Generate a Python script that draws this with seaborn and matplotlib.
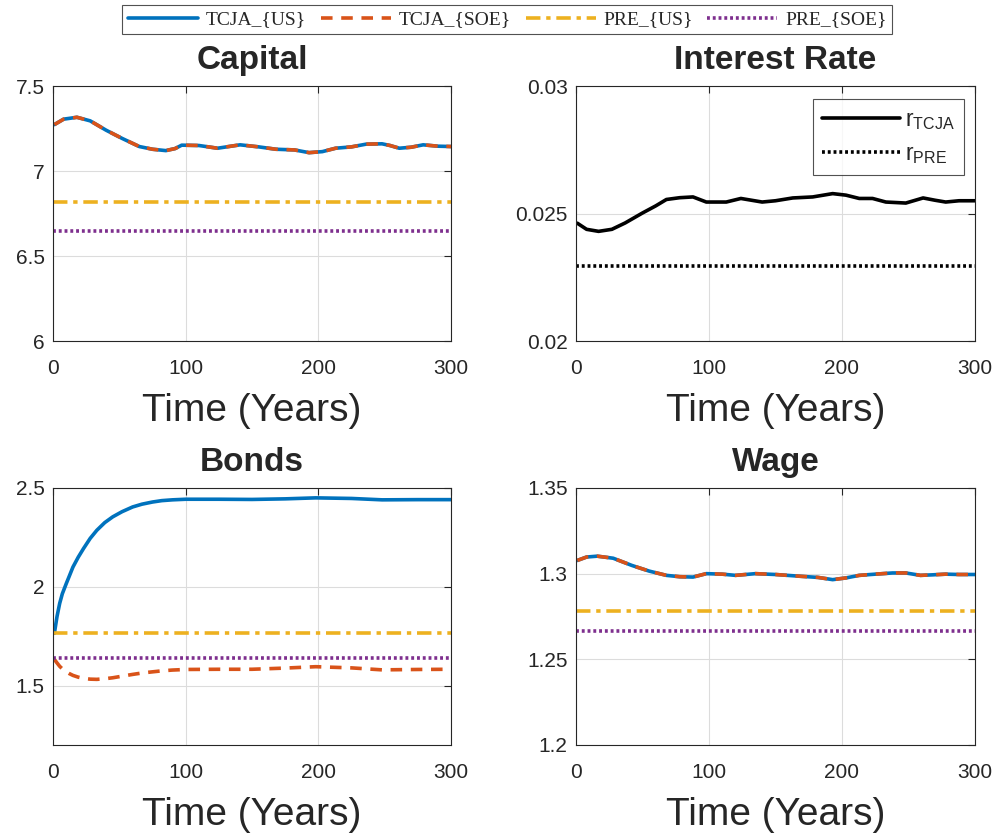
import matplotlib
matplotlib.use("Agg")
import matplotlib.pyplot as plt
import seaborn as sns
import pandas as pd

# time grid points
cap_t = [1, 8, 18, 28, 40, 52, 65, 75, 85, 92, 97, 110, 124, 141, 155, 168, 182, 193, 203, 213, 225, 236, 248, 254, 261, 270, 279, 290, 300]
cap_tcja = [7.273, 7.305, 7.316, 7.295, 7.240, 7.192, 7.144, 7.128, 7.120, 7.132, 7.152, 7.150, 7.134, 7.154, 7.142, 7.128, 7.124, 7.108, 7.114, 7.134, 7.142, 7.158, 7.160, 7.150, 7.134, 7.140, 7.154, 7.146, 7.144]
cap_pre_us = 6.818
cap_pre_soe = 6.646

r_t = [1, 8, 17, 27, 37, 50, 60, 68, 78, 88, 98, 113, 124, 140, 150, 163, 178, 193, 203, 213, 223, 233, 248, 261, 270, 278, 288, 300]
r_tcja = [0.02462, 0.02438, 0.02430, 0.02438, 0.02463, 0.02502, 0.02530, 0.02555, 0.02562, 0.02565, 0.02545, 0.02545, 0.02559, 0.02545, 0.02550, 0.02561, 0.02565, 0.02578, 0.02572, 0.02559, 0.02559, 0.02545, 0.02541, 0.02561, 0.02552, 0.02545, 0.02550, 0.02550]
r_pre = 0.02293

bond_t = [1, 3, 5, 7, 10, 12, 15, 19, 23, 28, 33, 39, 45, 52, 60, 67, 75, 82, 90, 100, 125, 150, 175, 198, 225, 248, 275, 300]
bond_us = [1.765, 1.850, 1.916, 1.965, 2.017, 2.050, 2.100, 2.150, 2.194, 2.245, 2.286, 2.325, 2.354, 2.380, 2.404, 2.418, 2.429, 2.436, 2.440, 2.443, 2.443, 2.442, 2.445, 2.450, 2.447, 2.440, 2.441, 2.441]
bond_soe = [1.633, 1.615, 1.598, 1.585, 1.570, 1.562, 1.552, 1.543, 1.537, 1.533, 1.532, 1.535, 1.540, 1.548, 1.557, 1.564, 1.570, 1.575, 1.579, 1.582, 1.583, 1.583, 1.589, 1.596, 1.590, 1.580, 1.582, 1.583]
bond_pre_us = 1.765
bond_pre_soe = 1.638

wage_t = [1, 8, 16, 28, 42, 55, 68, 78, 88, 98, 110, 120, 135, 150, 168, 182, 193, 203, 213, 225, 238, 248, 259, 268, 278, 288, 300]
wage_tcja = [1.3077, 1.3097, 1.3102, 1.3090, 1.3048, 1.3015, 1.2990, 1.2982, 1.2980, 1.3000, 1.2997, 1.2990, 1.3000, 1.2995, 1.2985, 1.2978, 1.2965, 1.2975, 1.2990, 1.2997, 1.3004, 1.3004, 1.2990, 1.2993, 1.2997, 1.2995, 1.2995]
wage_pre_us = 1.2781
wage_pre_soe = 1.2666

sns.set_theme(style="white")
plt.rcParams["font.family"] = ["Liberation Sans", "DejaVu Sans"]

c_us = "#0072BD"
c_soe = "#D95319"
c_pre_us = "#EDB120"
c_pre_soe = "#7E2F8E"
lw = 2.6

fig = plt.figure(figsize=(9.97, 8.35), dpi=100)
pos = {
    "cap": [0.0532, 0.5916, 0.3992, 0.3054],
    "r": [0.5777, 0.5916, 0.4002, 0.3054],
    "bond": [0.0532, 0.1078, 0.3992, 0.3078],
    "wage": [0.5777, 0.1078, 0.4002, 0.3078],
}
axs = {k: fig.add_axes(v) for k, v in pos.items()}


def style(ax, title, ylim, yticks, ylabels):
    ax.set_xlim(0, 300)
    ax.set_ylim(*ylim)
    ax.set_xticks([0, 100, 200, 300])
    ax.set_yticks(yticks)
    ax.set_yticklabels(ylabels)
    ax.grid(True, color="#dcdcdc", linewidth=0.8)
    ax.tick_params(direction="in", top=True, right=True, length=5, width=0.8,
                   labelsize=15, colors="#262626")
    ax.tick_params(axis="x", pad=13)
    ax.tick_params(axis="y", pad=6)
    for s in ax.spines.values():
        s.set_color("#262626")
        s.set_linewidth(0.8)
    ax.set_title(title, fontsize=24, fontweight="bold", pad=12)
    ax.set_xlabel("Time (Years)", fontsize=28, color="#262626", labelpad=11)
    ax.set_ylabel("")


def four_lines(ax, t, us, soe, pre_us, pre_soe):
    df = pd.DataFrame({"t": t, "us": us, "soe": soe})
    flat = pd.DataFrame({"t": [0, 300], "pu": [pre_us] * 2, "ps": [pre_soe] * 2})
    sns.lineplot(data=df, x="t", y="us", ax=ax, color=c_us, lw=lw, label="TCJA_{US}")
    sns.lineplot(data=df, x="t", y="soe", ax=ax, color=c_soe, lw=lw, linestyle=(0, (3.2, 2.4)), label="TCJA_{SOE}")
    sns.lineplot(data=flat, x="t", y="pu", ax=ax, color=c_pre_us, lw=lw, linestyle=(0, (4, 1.6, 1.2, 1.6)), label="PRE_{US}")
    sns.lineplot(data=flat, x="t", y="ps", ax=ax, color=c_pre_soe, lw=lw, linestyle=(0, (0.8, 0.8)), label="PRE_{SOE}")


four_lines(axs["cap"], cap_t, cap_tcja, cap_tcja, cap_pre_us, cap_pre_soe)
four_lines(axs["bond"], bond_t, bond_us, bond_soe, bond_pre_us, bond_pre_soe)
four_lines(axs["wage"], wage_t, wage_tcja, wage_tcja, wage_pre_us, wage_pre_soe)

ax = axs["r"]
rdf = pd.DataFrame({"t": r_t, "r": r_tcja})
rflat = pd.DataFrame({"t": [0, 300], "r": [r_pre] * 2})
sns.lineplot(data=rdf, x="t", y="r", ax=ax, color="black", lw=lw, label=r"r$_{\mathregular{TCJA}}$")
sns.lineplot(data=rflat, x="t", y="r", ax=ax, color="black", lw=lw, linestyle=(0, (0.8, 0.8)), label=r"r$_{\mathregular{PRE}}$")

style(axs["cap"], "Capital", (6, 7.5), [6, 6.5, 7, 7.5], ["6", "6.5", "7", "7.5"])
style(axs["r"], "Interest Rate", (0.02, 0.03), [0.02, 0.025, 0.03], ["0.02", "0.025", "0.03"])
style(axs["bond"], "Bonds", (1.2, 2.5), [1.5, 2, 2.5], ["1.5", "2", "2.5"])
style(axs["wage"], "Wage", (1.2, 1.35), [1.2, 1.25, 1.3, 1.35], ["1.2", "1.25", "1.3", "1.35"])

handles, labels = axs["cap"].get_legend_handles_labels()
for k in ["cap", "bond", "wage"]:
    axs[k].get_legend().remove()

leg_r = ax.legend(loc="upper right", fontsize=16.5, frameon=True, fancybox=False,
                  edgecolor="#262626", handlelength=3.4, borderpad=0.4,
                  labelspacing=0.45, handletextpad=0.2, borderaxespad=0,
                  bbox_to_anchor=(0.9724, 0.949))
leg_r.get_frame().set_linewidth(0.8)

leg = fig.legend(handles, labels, loc="upper center", ncol=4, bbox_to_anchor=(0.509, 0.994),
                 frameon=True, fancybox=False, edgecolor="#262626",
                 prop={"family": "Liberation Serif", "size": 14}, handlelength=3.6,
                 columnspacing=0.75, borderpad=0.3, handletextpad=0.4, borderaxespad=0)
leg.get_frame().set_linewidth(0.8)

fig.savefig("out.png", dpi=100)
